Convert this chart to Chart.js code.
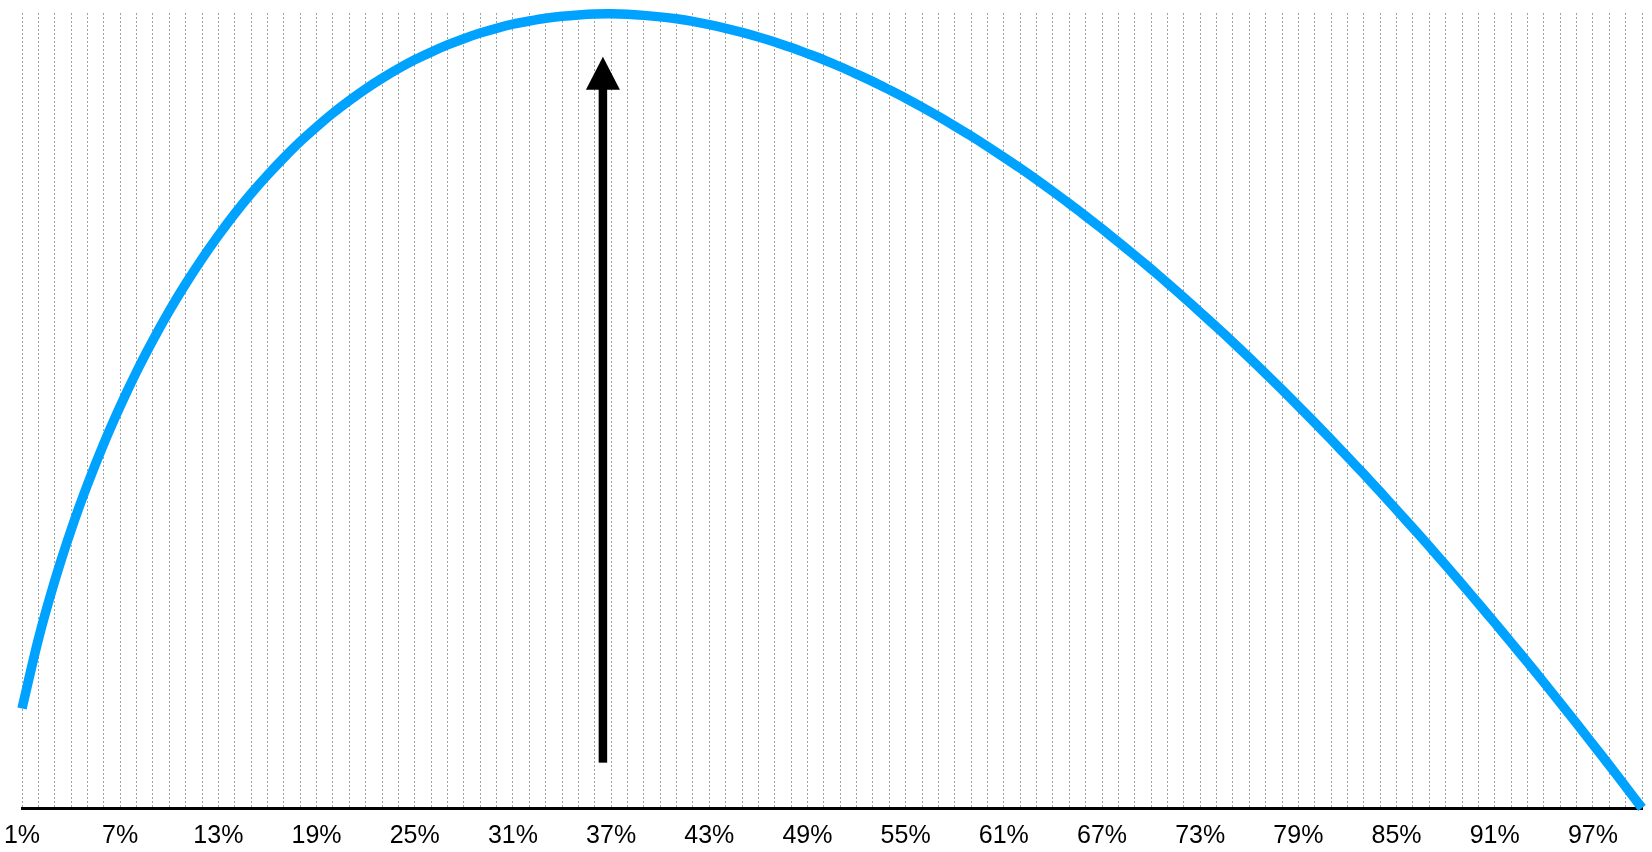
<!DOCTYPE html>
<html>
<head>
<meta charset="utf-8">
<script src="https://cdn.jsdelivr.net/npm/chart.js@4/dist/chart.umd.min.js"></script>
<style>
  html, body { margin: 0; padding: 0; background: #fff; }
  #wrap { width: 1652px; height: 852px; }
</style>
</head>
<body>
<div id="wrap"><canvas id="line-chart"></canvas></div>
<script>
// share of candidates seen before choosing (1% .. 100%)
var cutoffs = ['1%','2%','3%','4%','5%','6%','7%','8%','9%','10%',
  '11%','12%','13%','14%','15%','16%','17%','18%','19%','20%',
  '21%','22%','23%','24%','25%','26%','27%','28%','29%','30%',
  '31%','32%','33%','34%','35%','36%','37%','38%','39%','40%',
  '41%','42%','43%','44%','45%','46%','47%','48%','49%','50%',
  '51%','52%','53%','54%','55%','56%','57%','58%','59%','60%',
  '61%','62%','63%','64%','65%','66%','67%','68%','69%','70%',
  '71%','72%','73%','74%','75%','76%','77%','78%','79%','80%',
  '81%','82%','83%','84%','85%','86%','87%','88%','89%','90%',
  '91%','92%','93%','94%','95%','96%','97%','98%','99%','100%'];

// chance of picking the best one
var success = [0.0461,0.0782,0.1052,0.1288,0.1498,0.1688,0.1861,0.2021,0.2167,0.2303,
  0.2428,0.2544,0.2652,0.2753,0.2846,0.2932,0.3012,0.3087,0.3155,0.3219,
  0.3277,0.3331,0.3380,0.3425,0.3466,0.3502,0.3535,0.3564,0.3590,0.3612,
  0.3631,0.3646,0.3659,0.3668,0.3674,0.3678,0.3679,0.3677,0.3672,0.3665,
  0.3656,0.3644,0.3629,0.3612,0.3593,0.3572,0.3549,0.3523,0.3495,0.3466,
  0.3434,0.3400,0.3365,0.3327,0.3288,0.3247,0.3204,0.3159,0.3113,0.3065,
  0.3015,0.2964,0.2911,0.2856,0.2800,0.2742,0.2683,0.2622,0.2560,0.2497,
  0.2432,0.2365,0.2297,0.2228,0.2158,0.2086,0.2012,0.1938,0.1862,0.1785,
  0.1707,0.1627,0.1547,0.1465,0.1381,0.1297,0.1212,0.1125,0.1037,0.0948,
  0.0858,0.0767,0.0675,0.0582,0.0487,0.0392,0.0295,0.0198,0.0099,0.0000];

var tickLabels = ['1%','7%','13%','19%','25%','31%','37%','43%','49%','55%',
  '61%','67%','73%','79%','85%','91%','97%'];

// arrow marking the optimum (category index, y from / y to in data units)
var arrowIndex = 35.5;
var arrowFrom = 0.021;
var arrowTo = 0.348;

var arrowPlugin = {
  id: 'arrow',
  afterDatasetsDraw: function(chart) {
    var ctx = chart.ctx;
    var x = chart.scales.x.getPixelForValue(arrowIndex);
    var y0 = chart.scales.y.getPixelForValue(arrowFrom);
    var y1 = chart.scales.y.getPixelForValue(arrowTo);
    var headLen = 33, headW = 34, shaft = 8.5;
    ctx.save();
    ctx.fillStyle = '#000';
    ctx.fillRect(x - shaft / 2, y1 + headLen - 1, shaft, y0 - (y1 + headLen - 1));
    ctx.beginPath();
    ctx.moveTo(x, y1);
    ctx.lineTo(x + headW / 2, y1 + headLen);
    ctx.lineTo(x - headW / 2, y1 + headLen);
    ctx.closePath();
    ctx.fill();
    ctx.restore();
  }
};

new Chart(document.getElementById('line-chart'), {
  type: 'line',
  data: {
    labels: cutoffs,
    datasets: [{
      data: success,
      borderColor: '#00a2ff',
      borderWidth: 9.5,
      pointRadius: 0,
      tension: 0.3,
      fill: false,
      clip: false
    }]
  },
  options: {
    responsive: true,
    maintainAspectRatio: false,
    animation: false,
    layout: { padding: { left: 22, right: 10, top: 13, bottom: 0 } },
    plugins: {
      legend: { display: false },
      tooltip: { enabled: false }
    },
    scales: {
      x: {
        afterFit: function(scale) {
          scale.height = 44;
          // labels may hang over the edges, don't shrink the plot for them
          scale.paddingLeft = 0;
          scale.paddingRight = 0;
        },
        grid: {
          color: '#a0a0a0',
          lineWidth: 1,
          drawTicks: false
        },
        border: { display: true, color: '#000', width: 3, dash: [2, 2] },
        ticks: {
          autoSkip: false,
          maxRotation: 0,
          padding: 13,
          color: '#000',
          font: { family: 'Liberation Sans, Arial, sans-serif', size: 25 },
          callback: function(val, i) {
            var l = cutoffs[i];
            return tickLabels.indexOf(l) >= 0 ? l : '';
          }
        }
      },
      y: {
        display: false,
        min: 0,
        max: 0.3683
      }
    }
  },
  plugins: [arrowPlugin]
});
</script>
</body>
</html>
